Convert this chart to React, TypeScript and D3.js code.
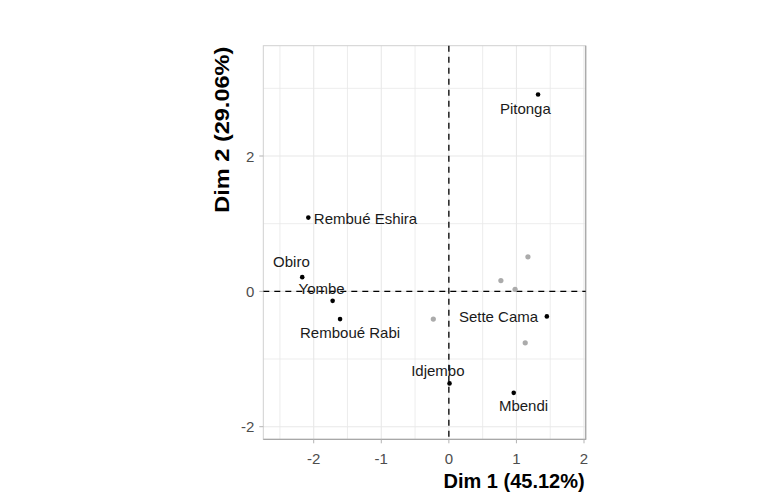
import React from "react";
import * as d3 from "d3";

const activeNames = ["Pitonga", "Rembué Eshira", "Obiro", "Yombe", "Remboué Rabi", "Idjembo", "Mbendi", "Sette Cama"];
const activeX = [1.32, -2.08, -2.17, -1.72, -1.61, 0.01, 0.96, 1.45];
const activeY = [2.91, 1.09, 0.21, -0.14, -0.41, -1.36, -1.5, -0.37];

const suppX = [1.17, 0.77, 0.98, -0.23, 1.13];
const suppY = [0.51, 0.16, 0.03, -0.41, -0.76];

const xTicks = [-2, -1, 0, 1, 2];
const xMinor = [-2.5, -1.5, -0.5, 0.5, 1.5];
const yTicks = [-2, 0, 2];
const yMinor = [-1, 1, 3];

const xTitle = "Dim 1 (45.12%)";
const yTitle = "Dim 2 (29.06%)";

// label placement (layout, px offsets from the point)
const labelLayout: Record<string, { dx: number; dy: number; anchor: string }> = {
  "Pitonga": { dx: -12.7, dy: 19.7, anchor: "middle" },
  "Rembué Eshira": { dx: 5.5, dy: 6, anchor: "start" },
  "Obiro": { dx: -10.8, dy: -10, anchor: "middle" },
  "Yombe": { dx: -11, dy: -7, anchor: "middle" },
  "Remboué Rabi": { dx: 10, dy: 19.3, anchor: "middle" },
  "Idjembo": { dx: -11.7, dy: -7.6, anchor: "middle" },
  "Mbendi": { dx: 9.8, dy: 17.7, anchor: "middle" },
  "Sette Cama": { dx: -8.7, dy: 5.7, anchor: "end" },
};

const W = 779;
const H = 500;
const L = 263.3, R = 585.7, T = 45.7, B = 439.3;

export default function App() {
  const x = d3.scaleLinear().domain([-2.746, 2.025]).range([L, R]);
  const y = d3.scaleLinear().domain([-2.186, 3.63]).range([B, T]);
  const font = "'Liberation Sans', Arial, sans-serif";
  const grid = "#e8e8e8";

  return (
    <svg width={W} height={H} style={{ position: "absolute", left: 0, top: 0, background: "#fff" }} fontFamily={font}>
      <rect x={0} y={0} width={W} height={H} fill="#fff" />
      {/* minor grid */}
      {xMinor.map((v) => (
        <line key={"xm" + v} x1={x(v)} x2={x(v)} y1={T} y2={B} stroke={grid} strokeWidth={0.8} />
      ))}
      {yMinor.map((v) => (
        <line key={"ym" + v} x1={L} x2={R} y1={y(v)} y2={y(v)} stroke={grid} strokeWidth={0.8} />
      ))}
      {/* major grid */}
      {xTicks.map((v) => (
        <line key={"xg" + v} x1={x(v)} x2={x(v)} y1={T} y2={B} stroke={grid} strokeWidth={1.1} />
      ))}
      {yTicks.map((v) => (
        <line key={"yg" + v} x1={L} x2={R} y1={y(v)} y2={y(v)} stroke={grid} strokeWidth={1.1} />
      ))}
      {/* panel border */}
      <rect x={L} y={T} width={R - L} height={B - T} fill="none" stroke="#d0d0d0" strokeWidth={1} />
      <line x1={L} x2={R + 0.5} y1={B} y2={B} stroke="#a8a8a8" strokeWidth={1.3} />
      <line x1={R} x2={R} y1={T} y2={B} stroke="#a8a8a8" strokeWidth={1.3} />
      {/* zero lines */}
      <line x1={L} x2={R} y1={y(0)} y2={y(0)} stroke="#000" strokeWidth={1.3} strokeDasharray="6,5" />
      <line x1={x(0)} x2={x(0)} y1={T} y2={B} stroke="#000" strokeWidth={1.3} strokeDasharray="6,5" />
      {/* ticks */}
      {xTicks.map((v) => (
        <g key={"xt" + v}>
          <line x1={x(v)} x2={x(v)} y1={B} y2={B + 4} stroke="#b3b3b3" strokeWidth={1} />
          <text x={x(v)} y={B + 25} textAnchor="middle" fontSize={15} fill="#4d4d4d">{v}</text>
        </g>
      ))}
      {yTicks.map((v) => (
        <g key={"yt" + v}>
          <line x1={L - 4} x2={L} y1={y(v)} y2={y(v)} stroke="#b3b3b3" strokeWidth={1} />
          <text x={L - 9} y={y(v) + 5.5} textAnchor="end" fontSize={15} fill="#4d4d4d">{v}</text>
        </g>
      ))}
      {/* supplementary points */}
      {suppX.map((v, i) => (
        <circle key={"s" + i} cx={x(v)} cy={y(suppY[i])} r={2.6} fill="#ababab" />
      ))}
      {/* active points */}
      {activeX.map((v, i) => (
        <circle key={"a" + i} cx={x(v)} cy={y(activeY[i])} r={2.3} fill="#000" />
      ))}
      {/* labels */}
      {activeNames.map((n, i) => {
        const lay = labelLayout[n];
        return (
          <text key={"l" + n} x={x(activeX[i]) + lay.dx} y={y(activeY[i]) + lay.dy} textAnchor={lay.anchor} fontSize={15} fill="#1a1a1a">
            {n}
          </text>
        );
      })}
      {/* axis titles */}
      <text x={R - 1} y={488} textAnchor="end" fontSize={20} fontWeight="bold" fill="#000">{xTitle}</text>
      <text transform={`translate(228.5, ${T + 1}) rotate(-90)`} textAnchor="end" fontSize={20} fontWeight="bold" fill="#000" textLength={166} lengthAdjust="spacingAndGlyphs">{yTitle}</text>
    </svg>
  );
}
